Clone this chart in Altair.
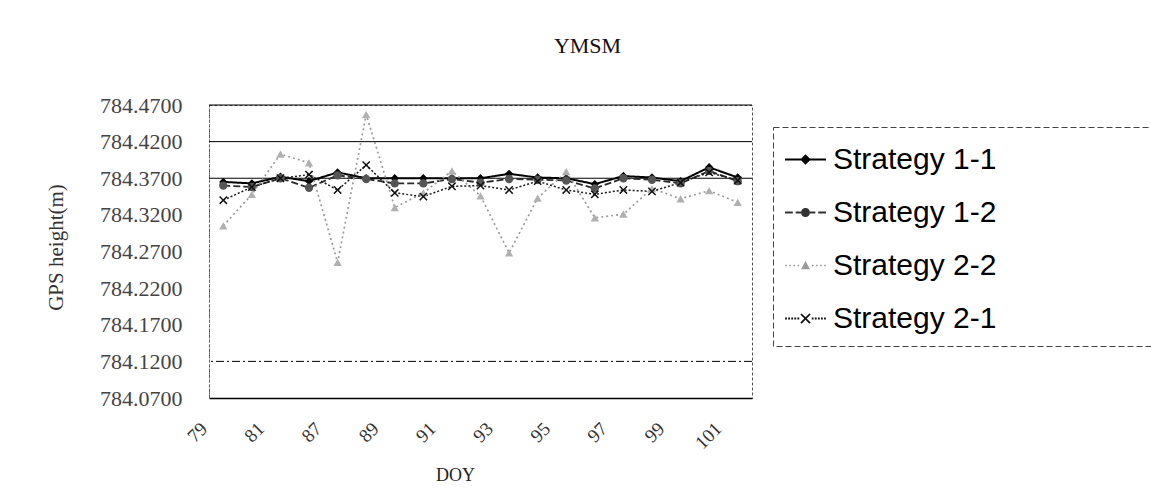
import altair as alt
import pandas as pd

# ---- data ----
DOY = [79, 80, 81, 86, 87, 88, 89, 90, 91, 92, 93, 94, 95, 96, 97, 98, 99, 100, 101]
LABELED_DOY = [79, 81, 87, 89, 91, 93, 95, 97, 99, 101]
SERIES = ["Strategy 1-1", "Strategy 1-2", "Strategy 2-2", "Strategy 2-1"]

S11 = [784.365, 784.363, 784.372, 784.366, 784.378, 784.370, 784.370, 784.370, 784.370, 784.370,
       784.376, 784.371, 784.370, 784.362, 784.373, 784.371, 784.366, 784.385, 784.371]
S12 = [784.360, 784.358, 784.370, 784.357, 784.374, 784.369, 784.363, 784.363, 784.369, 784.364,
       784.369, 784.368, 784.367, 784.356, 784.370, 784.368, 784.363, 784.380, 784.366]
S22 = [784.305, 784.348, 784.403, 784.391, 784.255, 784.457, 784.330, 784.350, 784.380, 784.346,
       784.268, 784.343, 784.379, 784.316, 784.321, 784.356, 784.342, 784.353, 784.337]
S21 = [784.340, 784.358, 784.370, 784.375, 784.354, 784.388, 784.350, 784.345, 784.359, 784.360,
       784.354, 784.366, 784.354, 784.348, 784.354, 784.352, 784.364, 784.378, 784.367]

Y_TICKS = [784.07, 784.12, 784.17, 784.22, 784.27, 784.32, 784.37, 784.42, 784.47]
Y_DOMAIN = [784.07, 784.47]
GRID_SOLID = [784.47, 784.42, 784.37]
GRID_DASHED = [784.12]

# ---- styles ----
LINE_COLORS = ["#000000", "#2a2a2a", "#9a9a9a", "#1a1a1a"]
LINE_DASHES = [[1, 0], [7, 3], [2, 3], [2, 2]]
LINE_WIDTHS = [2.0, 1.5, 1.3, 1.5]
PT_COLORS = ["#000000", "#555555", "#b0b0b0", "#111111"]
X_MARK = "M-1,-0.75L-0.75,-1L0,-0.25L0.75,-1L1,-0.75L0.25,0L1,0.75L0.75,1L0,0.25L-0.75,1L-1,0.75L-0.25,0Z"
PT_SHAPES = ["diamond", "circle", "triangle-up", X_MARK]
PT_SIZES = [70, 70, 50, 100]
LEG_COLORS = ["#000000", "#333333", "#9a9a9a", "#111111"]


# legend symbols: a short line sample with the marker in its middle (unit box -1..1)
def seg(x0, x1, t=0.05):
    return f"M{x0},{-t}H{x1}V{t}H{x0}Z"


def dot(x, r=0.04):
    return f"M{x - r},{-r}H{x + r}V{r}H{x - r}Z"


def circle(r):
    return f"M{r},0A{r},{r} 0 1,1 {-r},0A{r},{r} 0 1,1 {r},0Z"


LEG_1_1 = seg(-1, 1) + "M0,-0.26L0.26,0L0,0.26L-0.26,0Z"
LEG_1_2 = seg(-1, -0.62) + seg(-0.48, -0.22) + circle(0.22) + seg(0.22, 0.48) + seg(0.62, 1)
LEG_2_2 = "".join(dot(x) for x in [-0.95, -0.75, -0.55, -0.35, 0.35, 0.55, 0.75, 0.95]) + \
    "M0,-0.22L0.22,0.18L-0.22,0.18Z"
LEG_2_1 = "".join(dot(x, 0.045) for x in [-0.95, -0.8, -0.65, -0.5, -0.35, 0.35, 0.5, 0.65, 0.8, 0.95]) + \
    "M-0.25,-0.19L-0.19,-0.25L0,-0.06L0.19,-0.25L0.25,-0.19L0.06,0L0.25,0.19L0.19,0.25L0,0.06" \
    "L-0.19,0.25L-0.25,0.19L-0.06,0Z"
LEG_SHAPES = [LEG_1_1, LEG_1_2, LEG_2_2, LEG_2_1]

rows = []
for name, vals in zip(SERIES, [S11, S12, S22, S21]):
    for d, v in zip(DOY, vals):
        rows.append({"DOY": d, "Series": name, "Series2": name, "Series3": name, "Height": v})
df = pd.DataFrame(rows)

SERIF = "Liberation Serif"
SANS = "Liberation Sans"
PAD = "\u2800" * 7

x_enc = alt.X(
    "DOY:O",
    scale=alt.Scale(type="point", padding=0.5),
    axis=alt.Axis(
        values=LABELED_DOY, labelAngle=-45, labelFont=SERIF, labelFontSize=19,
        labelColor="#333333", labelPadding=21, labelOffset=-26, ticks=False,
        domainColor="#000000", domainWidth=1.5,
        title="DOY", titleFont=SERIF, titleFontSize=18, titleFontWeight="normal",
        titleColor="#222222", titleX=246, titleY=77, titleBaseline="middle", titleAlign="center",
    ),
)
y_scale = alt.Scale(domain=Y_DOMAIN, nice=False, zero=False)
y_enc = alt.Y(
    "Height:Q",
    scale=y_scale,
    axis=alt.Axis(
        values=Y_TICKS, format=".4f", grid=False, ticks=False,
        labelFont=SERIF, labelFontSize=22, labelColor="#444444", labelPadding=27,
        domainColor="#666666", domainDash=[2, 2],
        title="GPS height(m)", titleFont=SERIF, titleFontSize=21, titleFontWeight="normal",
        titleColor="#333333", titleX=-153, titleY=142, titleBaseline="middle", titleAlign="center",
    ),
)

legend = alt.Legend(
    title=None, orient="none", legendX=564, legendY=22, padding=12, strokeColor="#444444",
    labelFont=SANS, labelFontSize=30, labelColor="#000000", labelOffset=7, labelLimit=600,
    labelExpr="datum.label + '" + PAD + "'",
    symbolSize=1681, symbolStrokeWidth=0, symbolOpacity=1, rowPadding=17,
)

solid = alt.Chart(pd.DataFrame({"Height": GRID_SOLID})).mark_rule(color="#000000", strokeWidth=1).encode(
    y=y_enc
)
dashed = alt.Chart(pd.DataFrame({"Height": GRID_DASHED})).mark_rule(
    color="#000000", strokeWidth=1, strokeDash=[8, 3, 2, 3]
).encode(y=y_enc)

lines = alt.Chart(df).mark_line().encode(
    x=x_enc,
    y=y_enc,
    color=alt.Color("Series:N", scale=alt.Scale(domain=SERIES, range=LINE_COLORS), legend=None),
    strokeDash=alt.StrokeDash("Series:N", scale=alt.Scale(domain=SERIES, range=LINE_DASHES), legend=None),
    strokeWidth=alt.StrokeWidth("Series:N", scale=alt.Scale(domain=SERIES, range=LINE_WIDTHS), legend=None),
    order=alt.Order("DOY:O"),
)

points = alt.Chart(df).mark_point(filled=True, opacity=1).encode(
    x=x_enc,
    y=y_enc,
    color=alt.Color("Series2:N", scale=alt.Scale(domain=SERIES, range=PT_COLORS), legend=None),
    shape=alt.Shape("Series2:N", scale=alt.Scale(domain=SERIES, range=PT_SHAPES), legend=None),
    size=alt.Size("Series2:N", scale=alt.Scale(domain=SERIES, range=PT_SIZES), legend=None),
)

# legend-only layer (no rows reach the plot), so one legend shows line + marker samples
legend_layer = alt.Chart(df).transform_filter("false").mark_point(filled=True, opacity=0).encode(
    x=x_enc,
    y=y_enc,
    color=alt.Color("Series3:N", scale=alt.Scale(domain=SERIES, range=LEG_COLORS), legend=legend),
    shape=alt.Shape("Series3:N", scale=alt.Scale(domain=SERIES, range=LEG_SHAPES), legend=legend),
)

chart = (
    alt.layer(solid, dashed, lines, points, legend_layer)
    .resolve_scale(color="independent", shape="independent", size="independent")
    .properties(
        width=543,
        height=293,
        padding={"left": 209, "top": 105, "right": 399, "bottom": 102},
        autosize=alt.AutoSizeParams(type="none"),
        background="white",
        title=alt.TitleParams(
            "YMSM", font=SERIF, fontSize=22, fontWeight="normal", color="#111111",
            anchor="middle", dx=107, offset=19, baseline="alphabetic",
        ),
    )
    .configure_view(stroke="#555555", strokeWidth=1, strokeDash=[3, 2])
    .configure_legend(strokeDash=[6, 3], strokeWidth=1)
)

chart.save("out.html", embed_options={"renderer": "svg", "actions": False})
